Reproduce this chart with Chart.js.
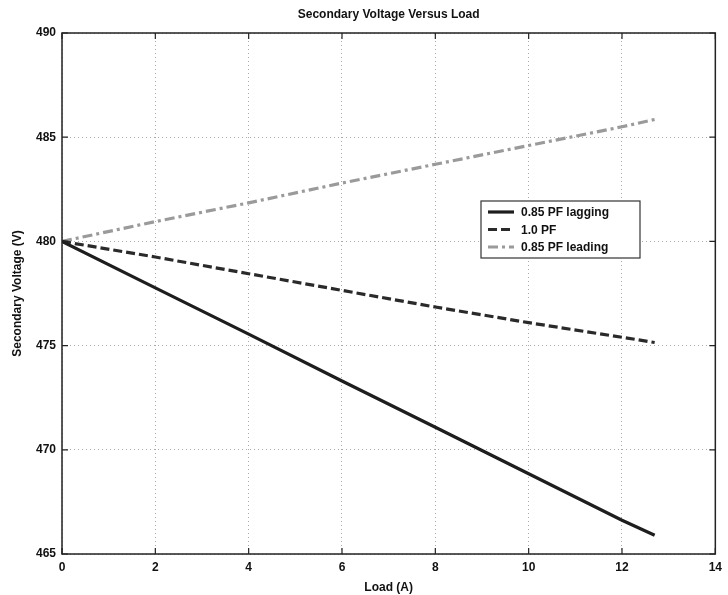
<!DOCTYPE html>
<html>
<head>
<meta charset="utf-8">
<script src="https://cdn.jsdelivr.net/npm/chart.js@4"></script>
<style>
  html, body { margin: 0; padding: 0; background: #fff; }
  #wrap { width: 728px; height: 595px; }
</style>
</head>
<body>
<div id="wrap"><canvas id="chart" width="728" height="595"></canvas></div>
<script>
const loads = [0, 2, 4, 6, 8, 10, 12, 12.7];
const lagging = [480, 477.77, 475.55, 473.3, 471.08, 468.85, 466.62, 465.9];
const unity = [480, 479.25, 478.45, 477.65, 476.85, 476.1, 475.4, 475.15];
const leading = [480, 480.95, 481.85, 482.8, 483.7, 484.6, 485.5, 485.85];
const seriesLabels = ['0.85 PF lagging', '1.0 PF', '0.85 PF leading'];

const FONT = 'Liberation Sans, Arial, sans-serif';

function pts(vals) {
    return vals.map((v, i) => ({ x: loads[i], y: v }));
}

// box, inward ticks, title and legend, drawn MATLAB style
const decor = {
    id: 'decor',
    afterDraw(chart) {
        const c = chart.ctx;
        const a = chart.chartArea;
        const xs = chart.scales.x, ys = chart.scales.y;
        c.save();
        c.strokeStyle = '#222';
        c.lineWidth = 1.5;
        c.strokeRect(a.left, a.top, a.right - a.left, a.bottom - a.top);
        c.lineWidth = 1.2;
        xs.ticks.forEach(t => {
            const px = xs.getPixelForValue(t.value);
            c.beginPath();
            c.moveTo(px, a.bottom); c.lineTo(px, a.bottom - 6);
            c.moveTo(px, a.top); c.lineTo(px, a.top + 6);
            c.stroke();
        });
        ys.ticks.forEach(t => {
            const py = ys.getPixelForValue(t.value);
            c.beginPath();
            c.moveTo(a.left, py); c.lineTo(a.left + 6, py);
            c.moveTo(a.right, py); c.lineTo(a.right - 6, py);
            c.stroke();
        });

        c.fillStyle = '#111';
        c.font = 'bold 12px ' + FONT;
        c.textAlign = 'center';
        c.textBaseline = 'middle';
        c.fillText('Secondary Voltage Versus Load', (a.left + a.right) / 2, 15);

        // legend box
        const bx = 481, by = 201, bw = 159, bh = 57;
        c.fillStyle = '#fff';
        c.fillRect(bx, by, bw, bh);
        c.strokeStyle = '#333';
        c.lineWidth = 1.2;
        c.strokeRect(bx, by, bw, bh);
        chart.data.datasets.forEach((ds, i) => {
            const y = by + 11 + i * 17.5;
            c.beginPath();
            c.strokeStyle = ds.borderColor;
            c.lineWidth = ds.borderWidth;
            c.setLineDash(ds.borderDash || []);
            c.moveTo(bx + 7, y); c.lineTo(bx + 33, y);
            c.stroke();
            c.setLineDash([]);
            c.fillStyle = '#111';
            c.textAlign = 'left';
            c.font = 'bold 12px ' + FONT;
            c.fillText(ds.label, bx + 40, y + 1);
        });
        c.restore();
    }
};

new Chart(document.getElementById('chart').getContext('2d'), {
    type: 'line',
    data: {
        datasets: [
            { label: seriesLabels[0], data: pts(lagging), borderColor: '#1e1e1e', borderWidth: 3.2 },
            { label: seriesLabels[1], data: pts(unity), borderColor: '#2a2a2a', borderWidth: 3.2, borderDash: [9, 4] },
            { label: seriesLabels[2], data: pts(leading), borderColor: '#9a9a9a', borderWidth: 3.2, borderDash: [10, 4, 3, 4] }
        ]
    },
    options: {
        responsive: false,
        animation: false,
        layout: { padding: { top: 33, right: 12, bottom: 0, left: 0 } },
        elements: { point: { radius: 0 }, line: { tension: 0 } },
        plugins: { legend: { display: false }, tooltip: { enabled: false } },
        scales: {
            x: {
                type: 'linear', min: 0, max: 14,
                afterFit(s) { s.height = 41; },
                ticks: { stepSize: 2, color: '#111', padding: 6, font: { family: FONT, size: 12, weight: 'bold' } },
                grid: { color: '#aaa', lineWidth: 1, drawTicks: false },
                border: { display: false, dash: [1, 3] },
                title: { display: true, text: 'Load (A)', color: '#111', padding: { top: 0, bottom: 0 }, font: { family: FONT, size: 12, weight: 'bold' } }
            },
            y: {
                min: 465, max: 490,
                afterFit(s) { s.width = 62; },
                ticks: { stepSize: 5, color: '#111', padding: 6, font: { family: FONT, size: 12, weight: 'bold' } },
                grid: { color: '#aaa', lineWidth: 1, drawTicks: false },
                border: { display: false, dash: [1, 3] },
                title: { display: true, text: 'Secondary Voltage (V)', color: '#111', padding: { top: 10, bottom: 4 }, font: { family: FONT, size: 12, weight: 'bold' } }
            }
        }
    },
    plugins: [decor]
});
</script>
</body>
</html>
